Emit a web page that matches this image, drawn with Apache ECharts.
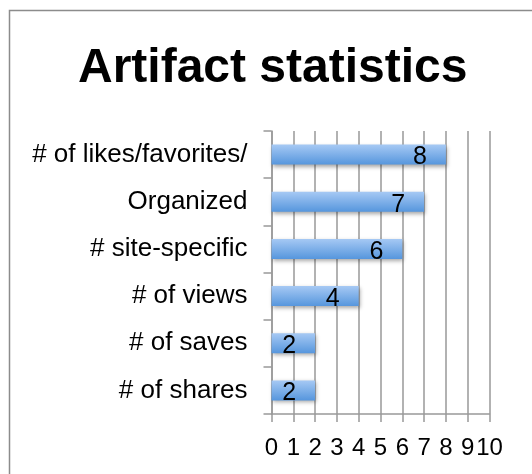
<!DOCTYPE html>
<html>
<head>
<meta charset="utf-8">
<script src="https://cdn.jsdelivr.net/npm/echarts@6/dist/echarts.min.js"></script>
<style>
  html, body { margin: 0; padding: 0; background: #fff; }
  #main { width: 532px; height: 474px; }
</style>
</head>
<body>
<div id="main"></div>
<script>
// chart data (bottom to top, as the category axis draws them)
var categories = ['# of shares', '# of saves', '# of views', '# site-specific', 'Organized', '# of likes/favorites/'];
var counts = [2, 2, 4, 6, 7, 8];
var xTicks = [0, 10, 1];   // min, max, step

var myChart = echarts.init(document.getElementById('main'));

var gridColor = '#999999';
var fontName = 'Liberation Sans, Arial, sans-serif';

var option = {
    animation: false,
    backgroundColor: '#ffffff',
    textStyle: { fontFamily: fontName },
    title: {
        text: 'Artifact statistics',
        left: 78,
        top: 45,
        padding: 0,
        textStyle: {
            fontSize: 48,
            fontWeight: 'bold',
            color: '#000',
            fontFamily: fontName
        }
    },
    // outer frame of the chart area
    graphic: [{
        type: 'rect',
        shape: { x: 9.5, y: 10.5, width: 560, height: 500 },
        style: { fill: 'none', stroke: '#8c8c8c', lineWidth: 1.5 },
        silent: true
    }],
    grid: {
        left: 271.5,
        right: 42.5,
        top: 131,
        bottom: 60
    },
    xAxis: {
        type: 'value',
        min: xTicks[0],
        max: xTicks[1],
        interval: xTicks[2],
        axisLine: { show: true, lineStyle: { color: gridColor, width: 1.5 } },
        axisTick: { show: true, length: 8, lineStyle: { color: gridColor, width: 1.5 } },
        axisLabel: { fontSize: 24, color: '#000', margin: 22, hideOverlap: false },
        splitLine: { show: true, lineStyle: { color: gridColor, width: 1.5 } }
    },
    yAxis: {
        type: 'category',
        data: categories,
        axisLine: { show: true, lineStyle: { color: gridColor, width: 1.5 } },
        axisTick: { show: true, length: 8, lineStyle: { color: gridColor, width: 1.5 } },
        axisLabel: { fontSize: 26, color: '#000', margin: 24, padding: [6, 0, 0, 0] }
    },
    series: [{
        type: 'bar',
        data: counts,
        barWidth: 20,
        itemStyle: {
            color: new echarts.graphic.LinearGradient(0, 0, 0, 1, [
                { offset: 0, color: '#a6c9f4' },
                { offset: 1, color: '#5696dd' }
            ]),
            shadowColor: 'rgba(0,0,0,0.35)',
            shadowBlur: 4,
            shadowOffsetX: 1,
            shadowOffsetY: 2
        },
        label: {
            show: true,
            position: 'insideRight',
            distance: 19,
            fontSize: 25,
            color: '#000',
            offset: [0, 3]
        }
    }]
};

myChart.setOption(option);
</script>
</body>
</html>
